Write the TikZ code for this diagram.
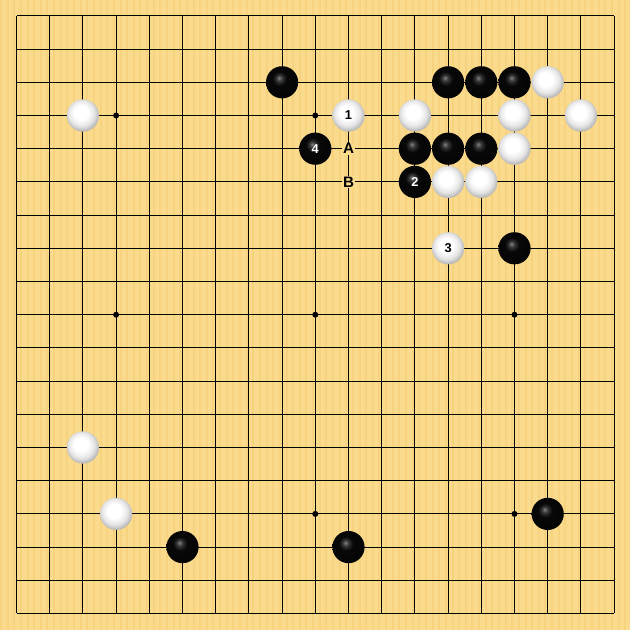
\documentclass[tikz,border=0pt]{standalone}
\usepackage{fontspec}
\setsansfont{Liberation Sans}
\usepackage{tikz}
\usetikzlibrary{positioning, shapes, calc}

\definecolor{boardwood}{RGB}{250,218,140}
\definecolor{boardstripe}{RGB}{246,206,118}

\pgfdeclareradialshading{whiteball}{\pgfqpoint{-4bp}{6bp}}{color(0bp)=(white); color(11bp)=(white); color(20bp)=(black!10); color(26bp)=(black!26); color(31bp)=(black!36); color(50bp)=(black!36)}
\pgfdeclareradialshading{blackball}{\pgfqpoint{-5bp}{7bp}}{color(0bp)=(black!50); color(5bp)=(black!80); color(11bp)=(black!97); color(50bp)=(black)}

\tikzset{
	blackstone/.style={circle, inner sep=0pt, minimum size=0.97cm, shade, shading=blackball, text=white, font=\sffamily\bfseries\fontsize{11}{13}\selectfont},
	whitestone/.style={circle, inner sep=0pt, minimum size=0.97cm, shade, shading=whiteball, text=black, font=\sffamily\bfseries\fontsize{11}{13}\selectfont},
	hoshi/.style={circle, fill=black, inner sep=0pt, minimum size=0.18cm},
	pointmark/.style={fill=boardwood, inner sep=0.8pt, font=\sffamily\bfseries\fontsize{13}{15}\selectfont}
}

\begin{document}
\begin{tikzpicture}[x=1cm, y=1cm]

			% board
			\fill[boardwood] (-0.497,-0.497) rectangle (18.479,18.479);
			\useasboundingbox (-0.497,-0.497) rectangle (18.479,18.479);
			\foreach \s in {0,...,94}
				\fill[boardstripe, opacity=0.5] (-0.497+0.2*\s,-0.497) rectangle ++(0.06,18.976);

			% grid
			\foreach \k in {0,...,18}
			{
				\draw[line width=0.9pt] (\k, 0) -- (\k, 18);
				\draw[line width=0.9pt] (0, \k) -- (18, \k);
			}
			
			\foreach \x/\y in {3/3, 9/3, 15/3, 3/9, 9/9, 15/9, 3/15, 9/15, 15/15}
			\node [hoshi] (h\x-\y) at (\x, 18-\y) {};

			% stones (column / row from top / label)
			\foreach \x/\y/\val in {8/2/, 13/2/, 14/2/, 15/2/, 9/4/4, 12/4/, 13/4/, 14/4/, 12/5/2, 15/7/, 5/16/, 10/16/, 16/15/}
			\node [blackstone] (b\x-\y) at (\x, 18-\y) {\val};

			\foreach \x/\y/\val in {16/2/, 2/3/, 10/3/1, 12/3/, 15/3/, 17/3/, 15/4/, 13/5/, 14/5/, 13/7/3, 2/13/, 3/15/}
			\node [whitestone] (w\x-\y) at (\x, 18-\y) {\val};
			
			\node [pointmark] (markA) at (10, 14) {A};
			\node [pointmark] (markB) at (10, 13) {B};
			\end{tikzpicture}
\end{document}
